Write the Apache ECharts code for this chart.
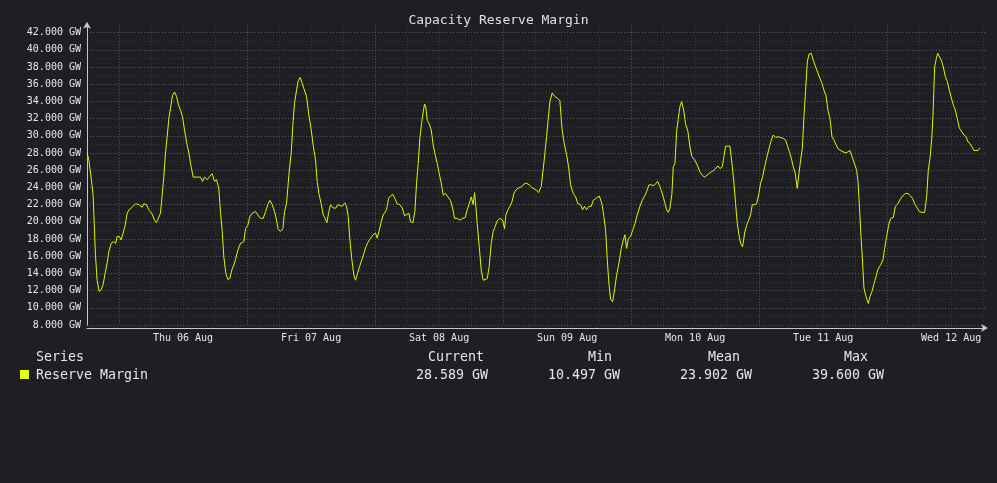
<!DOCTYPE html>
<html>
<head>
<meta charset="utf-8">
<script src="https://cdn.jsdelivr.net/npm/echarts@6/dist/echarts.min.js"></script>
<style>
html,body{margin:0;padding:0;background:#1e1f22;}
#chart{width:997px;height:483px;}
</style>
</head>
<body>
<div id="chart"></div>
<script>
// Hours since Thu 06 Aug 00:00
const hours = [
-5.98,-5.66,-5.22,-4.85,-4.41,-4.1,-3.73,-3.35,-2.98,-2.6,-2.23,-1.91,-1.48,-0.98,-0.6,-0.35,0.03,0.4,0.78,1.15,1.53,1.9,2.46,3.09,3.71,4.34,4.65,5.15,5.59,6.21,6.65,7.03,7.4,7.78,8.09,8.4,8.71,9.03,9.34,9.65,10.03,10.4,10.78,11.15,11.53,11.9,12.28,12.65,13.09,13.53,13.9,14.65,15.28,15.65,16.03,16.53,17.03,17.46,17.9,18.28,18.71,19.03,19.34,19.65,20.03,20.4,20.78,21.15,21.53,
21.84,22.28,22.78,23.4,23.72,24.15,24.53,24.97,25.59,26.03,26.53,27.03,27.47,27.9,28.28,28.72,29.15,29.53,29.84,30.28,30.72,31.03,31.4,31.84,32.28,32.65,32.9,33.28,33.59,33.97,34.34,34.65,35.15,35.59,36.03,36.4,36.84,37.15,37.47,37.9,38.28,38.65,38.97,39.28,39.65,40.15,40.65,41.03,41.4,41.84,42.34,42.65,42.97,43.28,43.65,44.03,44.34,44.65,45.09,45.53,45.9,46.22,46.65,47.15,47.65,48.09,48.4,48.78,49.15,49.53,
50.15,50.53,50.9,51.34,51.71,52.15,52.65,53.09,53.53,53.9,54.34,54.65,55.09,55.46,55.78,56.09,56.4,56.71,57.03,57.28,57.53,57.78,58.15,58.53,58.9,59.28,59.65,60.03,60.4,60.78,61.21,61.65,62.15,62.53,62.9,63.4,63.9,64.4,64.9,65.28,65.65,66.03,66.4,66.65,66.9,67.15,67.53,67.9,68.28,68.65,69.03,69.4,69.78,70.15,70.53,70.9,71.4,71.9,72.28,72.53,72.9,73.28,73.65,74.03,74.4,74.78,75.15,75.53,75.9,76.4,76.9,77.4,77.9,
78.28,78.65,79.15,79.53,79.84,80.15,80.47,80.78,81.22,81.65,82.15,82.65,83.03,83.4,83.9,84.28,84.65,85.15,85.59,86.03,86.53,86.9,87.28,87.65,88.09,88.53,88.9,89.34,89.65,90.03,90.53,90.9,91.22,91.53,91.84,92.15,92.53,92.9,93.28,93.72,94.15,94.53,94.84,95.15,95.47,95.9,96.28,96.72,97.15,97.65,98.09,98.53,98.9,99.34,99.78,100.28,100.65,100.97,101.4,101.84,102.28,102.65,102.97,103.28,103.65,103.9,104.22,104.53,104.84,105.15,105.47,105.84,
106.21,106.65,107.03,107.4,107.9,108.4,108.9,109.34,109.78,110.15,110.59,111.03,111.53,111.9,112.28,112.65,113.09,113.4,113.71,114.03,114.53,114.9,115.28,115.59,115.9,116.21,116.53,116.9,117.28,117.65,118.03,118.4,118.71,119.15,119.53,119.96,120.28,120.65,121.03,121.4,121.84,122.28,122.65,123.09,123.53,124.03,124.53,124.96,125.28,125.65,126.03,126.4,126.78,127.15,127.46,127.78,128.09,128.4,128.71,129.03,129.34,129.78,130.15,130.59,131.03,131.4,131.78,132.15,132.53,132.9,133.28,133.65,134.03,
134.4,134.78,135.15,135.53,135.9,136.28,136.65,137.03,137.28,137.53,137.9,138.28,138.53,138.78,139.03,139.34,139.65,140.03,140.47,140.78,141.15,141.53,141.9,142.28,142.78,143.22,143.53,143.9,144.28,144.65,145.15,145.53,146.03,146.53,147.03,147.47,147.9,148.4,148.78,149.15,149.65,150.03,150.53,151.03,151.4,151.71,152.03,152.34,152.59,152.9,153.22,153.47,153.84,154.15,154.53,154.9,155.28,155.65,156.03,156.4,156.78,157.15,157.53,157.9,158.4,158.78,159.15,159.53,159.9,160.28,160.65,161.03,161.4
];
const reserveGW = [
28.0,27.2,25.1,23.1,16.1,13.2,11.9,12.1,12.7,14.0,15.2,16.5,17.5,17.7,17.5,18.3,18.3,17.9,18.7,19.6,21.0,21.4,21.7,22.1,22.0,21.7,22.1,22.0,21.4,20.9,20.2,19.9,20.0,21.0,23.1,25.2,28.0,29.9,32.0,33.2,34.7,35.1,34.6,33.6,33.0,32.2,30.7,29.3,28.0,26.4,25.2,25.2,25.2,24.7,25.2,24.9,25.3,25.6,24.7,24.9,23.9,21.0,19.0,15.9,14.0,13.3,13.4,14.4,15.0,
15.6,16.7,17.5,17.7,19.2,19.6,20.6,21.0,21.2,20.8,20.4,20.4,21.2,22.0,22.5,22.0,21.2,20.2,19.1,18.9,19.2,21.2,22.1,25.4,28.0,31.8,33.8,35.3,36.4,36.8,36.1,35.5,34.6,32.4,30.7,28.9,27.2,24.7,23.3,22.1,20.8,20.4,19.9,21.0,22.0,21.6,21.6,22.0,22.1,21.8,22.2,21.8,20.6,17.9,15.6,13.8,13.2,13.2,14.8,15.6,16.3,17.0,17.6,18.1,18.5,18.7,18.1,19.0,20.0,20.8,
21.4,22.7,23.0,23.2,22.7,22.1,22.0,21.6,20.7,20.9,21.0,20.0,19.9,21.2,24.5,26.8,29.7,31.4,32.8,33.7,33.3,31.8,31.4,30.7,28.9,27.8,26.8,25.6,24.5,23.1,23.3,22.9,22.5,21.6,20.4,20.4,20.2,20.4,20.5,21.4,22.1,22.9,22.0,23.4,21.8,19.8,17.1,14.4,13.2,13.4,13.4,14.8,17.5,18.9,19.5,20.1,20.4,20.2,19.2,20.8,21.4,21.8,22.3,23.3,23.7,23.9,23.7,24.1,24.4,24.5,24.3,24.0,23.8,
23.7,23.4,24.1,26.2,28.0,29.9,32.0,34.0,35.0,34.6,34.4,34.1,30.9,29.3,27.8,26.4,24.3,23.3,22.9,22.1,22.0,21.4,21.8,21.4,21.8,21.8,22.5,22.7,22.9,23.0,22.1,20.6,19.0,15.6,12.8,11.0,10.7,12.1,13.8,15.2,16.9,17.9,18.5,16.9,18.0,18.3,19.0,19.8,20.8,21.8,22.5,23.0,23.5,24.3,24.3,24.2,24.2,24.7,24.1,23.3,22.3,21.4,21.1,21.6,23.3,26.4,26.8,30.5,32.0,33.4,34.0,33.0,
31.4,30.5,28.7,27.6,27.2,26.6,25.8,25.4,25.2,25.2,25.6,25.8,26.0,26.1,26.5,26.2,26.4,27.6,28.8,28.9,28.8,26.8,24.5,22.1,19.8,18.5,17.5,17.1,18.7,19.6,20.2,20.8,22.0,22.0,22.1,23.3,24.5,25.2,26.4,27.4,28.5,29.5,30.1,29.8,29.9,29.8,29.7,29.5,28.9,28.2,27.4,26.4,25.6,23.9,25.6,27.2,28.5,32.2,35.3,38.6,39.5,39.6,38.8,38.0,37.3,36.7,36.1,35.3,34.7,33.0,32.0,29.9,29.5,
29.3,28.5,28.5,28.2,28.3,28.0,27.8,28.3,28.3,27.4,27.2,26.0,24.7,22.1,19.0,15.9,12.3,11.3,10.5,11.3,11.9,12.8,13.6,14.5,15.0,15.6,16.9,18.3,19.6,20.4,20.5,21.8,22.1,22.7,23.1,23.3,23.3,23.0,22.7,22.1,21.6,21.2,21.1,21.1,22.9,26.0,27.4,29.5,32.4,38.0,39.0,39.6,39.4,38.8,38.0,36.9,36.3,35.3,34.4,33.6,33.0,32.0,30.9,30.7,30.1,29.9,29.3,29.1,28.7,28.3,28.3,28.3,28.59
];
const dayLabels = ['Thu 06 Aug','Fri 07 Aug','Sat 08 Aug','Sun 09 Aug','Mon 10 Aug','Tue 11 Aug','Wed 12 Aug'];
const seriesName = 'Reserve Margin';
const legendHeaders = ['Series','Current','Min','Mean','Max'];
const legendValues = ['28.589 GW','10.497 GW','23.902 GW','39.600 GW'];

const MONO = '"DejaVu Sans Mono", monospace';
const LINE = '#e2f500';
const TXT = '#e6e6e6';
const MAJOR = '#58595c';
const MINOR = '#37383b';

const chart = echarts.init(document.getElementById('chart'), null, {renderer:'canvas'});
const data = hours.map((h, i) => [h, reserveGW[i]]);
const legendFont = '13.3px ' + MONO;

function txt(x, y, s) {
  return {type:'text', x:x, y:y, silent:true,
    style:{text:s, fill:TXT, font:legendFont, align:'left', verticalAlign:'middle', textVerticalAlign:'middle'}};
}

chart.setOption({
  backgroundColor:'#1e1f22',
  animation:false,
  title:{text:'Capacity Reserve Margin', left:'center', top:9,
    textStyle:{color:'#e0e0e0', fontFamily:MONO, fontSize:13, fontWeight:'normal'}},
  grid:{left:87, right:12, top:25.8, bottom:158, containLabel:false},
  xAxis:{type:'value', min:-6, max:162.34, interval:6, offset:3,
    axisLine:{show:true, onZero:false, symbol:['none','arrow'], symbolSize:[6,7], symbolOffset:[0,3], lineStyle:{color:'#c8c8c8', width:1}},
    axisTick:{show:false},
    axisLabel:{color:TXT, fontFamily:MONO, fontSize:10, margin:5, showMinLabel:true, showMaxLabel:true,
      formatter:function(v){ const r = Math.round(v); if (Math.abs(v-r)>1e-6) return ''; if (((r%24)+24)%24===12){ const k=(r-12)/24; return dayLabels[k]||''; } return ''; }},
    splitLine:{show:true, showMinLine:true, showMaxLine:false, lineStyle:{color:[MINOR, MAJOR, MINOR, MINOR], type:[1,2], width:1}}
  },
  yAxis:{type:'value', min:8, max:42.8, interval:1,
    axisLine:{show:true, onZero:false, symbol:['none','arrow'], symbolSize:[6,7], symbolOffset:[0,4], lineStyle:{color:'#c8c8c8', width:1}},
    axisTick:{show:false},
    axisLabel:{color:TXT, fontFamily:MONO, fontSize:10, margin:6,
      formatter:function(v){ const r=Math.round(v); if (Math.abs(v-r)>1e-6 || r%2!==0) return ''; return r.toFixed(3)+' GW'; }},
    splitLine:{show:true, showMinLine:true, showMaxLine:false, lineStyle:{color:[MAJOR, MINOR], type:[1,2], width:1}}
  },
  series:[{name:seriesName, type:'line', data:data, showSymbol:false, symbol:'none',
    lineStyle:{color:LINE, width:1}, itemStyle:{color:LINE}, z:5}],
  graphic:[
    txt(36, 358, legendHeaders[0]),
    txt(428, 358, legendHeaders[1]),
    txt(588, 358, legendHeaders[2]),
    txt(708, 358, legendHeaders[3]),
    txt(844, 358, legendHeaders[4]),
    {type:'rect', shape:{x:20, y:370, width:9, height:9}, style:{fill:'#e5ff12'}, silent:true},
    txt(36, 376, seriesName),
    txt(416, 376, legendValues[0]),
    txt(548, 376, legendValues[1]),
    txt(680, 376, legendValues[2]),
    txt(812, 376, legendValues[3])
  ]
});
</script>
</body>
</html>
